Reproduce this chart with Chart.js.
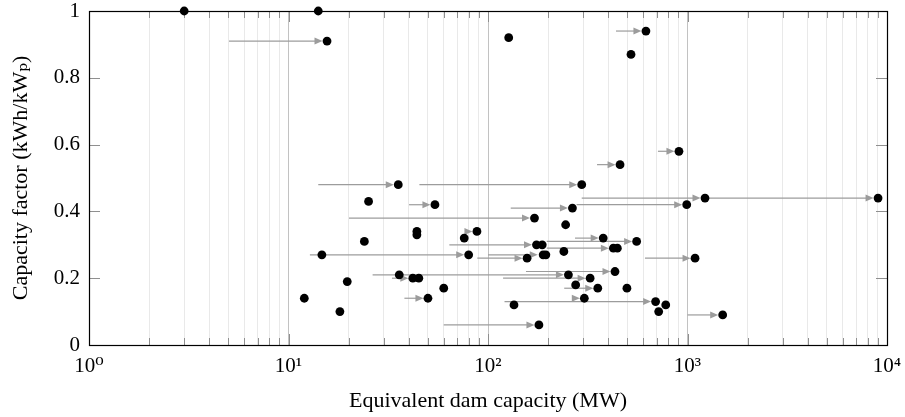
<!DOCTYPE html>
<html><head><meta charset="utf-8">
<script src="https://cdn.jsdelivr.net/npm/chart.js@4/dist/chart.umd.min.js"></script>
<style>html,body{margin:0;padding:0;background:#fff;}</style>
</head><body>
<canvas id="c" width="905" height="417"></canvas>
<script>
// ---- data ----
const capacityMW = [3.0, 14.1, 15.6, 127, 619, 521, 906, 459, 35.5, 295, 25.2, 54.2, 265, 1224, 9020, 991,
  171, 245, 44, 44, 88, 76, 24, 378, 556, 175, 187, 240, 425, 445, 14.7, 80, 157, 189, 195, 1091,
  35.9, 42, 45, 253, 325, 433, 275, 355, 497, 60, 19.7, 50, 304, 692, 135, 778, 717, 1501, 180, 18.1, 12.0];
const capacityFactor = [1.00, 1.00, 0.91, 0.92, 0.94, 0.87, 0.58, 0.54, 0.48, 0.48, 0.43, 0.42, 0.41, 0.44, 0.44, 0.42,
  0.38, 0.36, 0.34, 0.33, 0.34, 0.32, 0.31, 0.32, 0.31, 0.30, 0.30, 0.28, 0.29, 0.29, 0.27, 0.27, 0.26, 0.27, 0.27, 0.26,
  0.21, 0.20, 0.20, 0.21, 0.20, 0.22, 0.18, 0.17, 0.17, 0.17, 0.19, 0.14, 0.14, 0.13, 0.12, 0.12, 0.10, 0.09, 0.06, 0.10, 0.14];
const arrowFromMW = [5.03, 438, 711, 352, 14.1, 45.3, 40.2, 130, 295, 1224, 278, 20.1, 78, 273, 197, 64, 197, 12.8,
  88.4, 100, 612, 26.4, 33, 119, 155, 241, 38.1, 121, 270, 1000, 60];
const arrowToMW = [15.6, 619, 906, 459, 35.5, 295, 54.2, 265, 1224, 9020, 991, 171, 88, 378, 556, 175, 425, 80,
  157, 187, 1091, 253, 42, 325, 433, 355, 50, 692, 304, 1501, 180];
const arrowFactor = [0.91, 0.94, 0.58, 0.54, 0.48, 0.48, 0.42, 0.41, 0.44, 0.44, 0.42, 0.38, 0.34, 0.32, 0.31, 0.30, 0.29, 0.27,
  0.26, 0.27, 0.26, 0.21, 0.20, 0.20, 0.22, 0.17, 0.14, 0.13, 0.14, 0.09, 0.06];
const xMajorValues = [1, 10, 100, 1000, 10000];
const xTickLabels = ['10⁰', '10¹', '10²', '10³', '10⁴'];
const yTickValues = [0, 0.2, 0.4, 0.6, 0.8, 1];
const yTickLabels = ['0', '0.2', '0.4', '0.6', '0.8', '1'];

const xGridValues = [];
for (let e = 0; e < 4; e++) for (let m = 1; m < 10; m++) xGridValues.push(m * Math.pow(10, e));
xGridValues.push(10000);

const FONT = "'Liberation Serif', 'DejaVu Serif', serif";
const majorIdx = v => xMajorValues.findIndex(m => Math.abs(m - v) < 1e-9 * m);
const noPad = s => { s.paddingTop = 0; s.paddingBottom = 0; s.paddingLeft = 0; s.paddingRight = 0; };

const decorPlugin = {
  id: 'decor',
  beforeDatasetsDraw(chart) {
    const {ctx, chartArea: a, scales: {x, y}} = chart;
    ctx.save();
    // tick marks inside the frame
    ctx.strokeStyle = '#8f8f8f';
    ctx.lineWidth = 1;
    ctx.beginPath();
    xGridValues.forEach(v => {
      const px = Math.round(x.getPixelForValue(v)) + 0.5;
      const len = majorIdx(v) >= 0 ? 11 : 7;
      ctx.moveTo(px, a.bottom); ctx.lineTo(px, a.bottom - len);
      ctx.moveTo(px, a.top); ctx.lineTo(px, a.top + len);
    });
    yTickValues.forEach(v => {
      const py = Math.round(y.getPixelForValue(v)) + 0.5;
      ctx.moveTo(a.left, py); ctx.lineTo(a.left + 11, py);
      ctx.moveTo(a.right, py); ctx.lineTo(a.right - 11, py);
    });
    ctx.stroke();
    // frame
    ctx.strokeStyle = '#000';
    ctx.lineWidth = 1.2;
    ctx.strokeRect(Math.round(a.left) + 0.5, Math.round(a.top) + 0.5,
      Math.round(a.right) - Math.round(a.left), Math.round(a.bottom) - Math.round(a.top));
    // arrows
    ctx.strokeStyle = '#9c9c9c';
    ctx.fillStyle = '#9c9c9c';
    ctx.lineWidth = 1.2;
    for (let i = 0; i < arrowFromMW.length; i++) {
      const x0 = x.getPixelForValue(arrowFromMW[i]);
      const x1 = x.getPixelForValue(arrowToMW[i]);
      const py = y.getPixelForValue(arrowFactor[i]);
      const tip = x1 - 4.5;
      const hl = 8, hw = 3.5;
      ctx.beginPath();
      ctx.moveTo(x0, py); ctx.lineTo(tip - hl + 1, py);
      ctx.stroke();
      ctx.beginPath();
      ctx.moveTo(tip, py); ctx.lineTo(tip - hl, py - hw); ctx.lineTo(tip - hl, py + hw);
      ctx.closePath(); ctx.fill();
    }
    ctx.restore();
  }
};

new Chart(document.getElementById('c'), {
  type: 'scatter',
  data: {
    datasets: [{
      data: capacityMW.map((v, i) => ({x: v, y: capacityFactor[i]})),
      backgroundColor: '#000',
      borderColor: '#000',
      borderWidth: 0,
      pointRadius: 4.4,
      pointHoverRadius: 4.4,
      clip: false
    }]
  },
  options: {
    responsive: false,
    animation: false,
    layout: {padding: {top: 11, right: 18, bottom: 0, left: 0}},
    plugins: {legend: {display: false}, tooltip: {enabled: false}},
    scales: {
      x: {
        type: 'logarithmic', min: 1, max: 10000, position: 'bottom',
        afterBuildTicks: s => { s.ticks = xGridValues.map(v => ({value: v})); },
        afterFit: s => { s.height = 72; noPad(s); },
        grid: {color: c => (c.tick && majorIdx(c.tick.value) >= 0) ? '#c2c2c2' : '#e9e9e9', lineWidth: 1, drawTicks: false},
        border: {display: false},
        ticks: {
          autoSkip: false, maxRotation: 0, minRotation: 0, padding: 9, color: '#000',
          font: {family: FONT, size: 21},
          callback: v => { const k = majorIdx(v); return k >= 0 ? xTickLabels[k] : ''; }
        },
        title: {display: true, text: 'Equivalent dam capacity (MW)', color: '#000',
          font: {family: FONT, size: 22}, padding: {top: 0, bottom: 3}}
      },
      y: {
        min: 0, max: 1,
        afterBuildTicks: s => { s.ticks = yTickValues.map(v => ({value: v})); },
        afterFit: s => { s.width = 89; noPad(s); },
        grid: {display: false, drawTicks: false},
        border: {display: false},
        ticks: {
          padding: 9, color: '#000', font: {family: FONT, size: 21},
          callback: v => { const k = yTickValues.findIndex(t => Math.abs(t - v) < 1e-9); return k >= 0 ? yTickLabels[k] : ''; }
        },
        title: {display: true, text: 'Capacity factor (kWh/kWₚ)', color: '#000',
          font: {family: FONT, size: 22}, padding: {top: 8, bottom: 0}}
      }
    }
  },
  plugins: [decorPlugin]
});
</script>
</body></html>
